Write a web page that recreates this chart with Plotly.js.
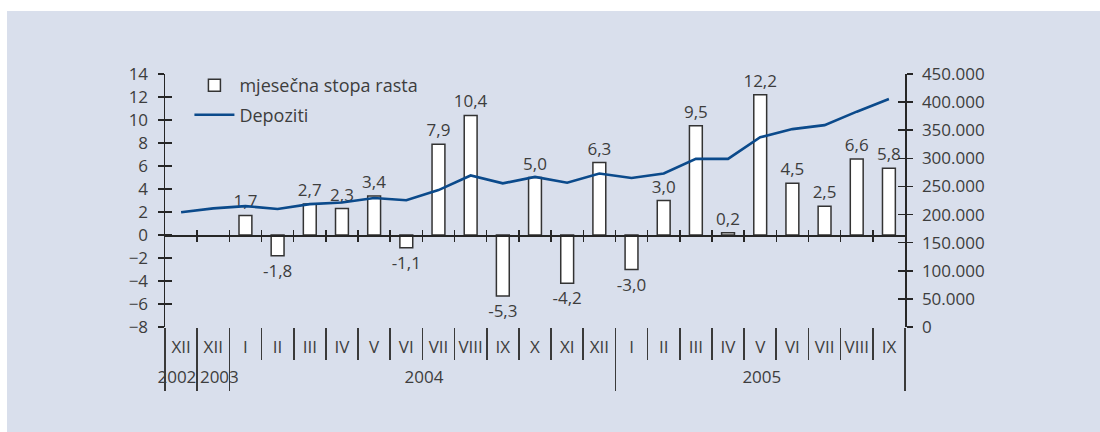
<!DOCTYPE html>
<html>
<head>
<meta charset="utf-8">
<script src="https://cdn.plot.ly/plotly-3.0.1.min.js"></script>
<style>
html,body{margin:0;padding:0;background:#ffffff;}
#chart{position:absolute;left:7px;top:11px;width:1093px;height:421px;}
</style>
</head>
<body>
<div id="chart"></div>
<script>
// ---- data ----
const categories = ['XII','XII','I','II','III','IV','V','VI','VII','VIII','IX','X','XI','XII','I','II','III','IV','V','VI','VII','VIII','IX'];
const years = ['2002','2003','2004','2005'];
const yearCounts = [1,1,12,9];
const growth = [null,null,1.7,-1.8,2.7,2.3,3.4,-1.1,7.9,10.4,-5.3,5.0,-4.2,6.3,-3.0,3.0,9.5,0.2,12.2,4.5,2.5,6.6,5.8];
const deposits = [204000,211000,215000,210000,218500,221500,229500,225500,243500,269500,255500,267000,256500,273000,265000,273000,299000,299000,337500,352000,359000,383000,405500];
const leftTicks = [-8,-6,-4,-2,0,2,4,6,8,10,12,14];
const rightTicks = [0,50000,100000,150000,200000,250000,300000,350000,400000,450000];
const seriesNames = ['mjesečna stopa rasta','Depoziti'];

// ---- derived positions (from data) ----
const idx = categories.map((_, i) => i);
const boundaries = categories.slice(1).map((_, i) => i + 0.5);
const yearBounds = [-0.5];
const yearCenters = [];
let acc = -0.5;
yearCounts.forEach(c => { yearCenters.push(acc + c / 2); acc += c; yearBounds.push(acc); });
const yearLabelNudge = [-0.13, 0.19, 0.05, 0.05]; // small visual offsets of the year labels
const yearLabelPos = yearCenters.map((v, i) => v + yearLabelNudge[i]);
const xr = [-0.5, categories.length - 0.5];
const leftRange = [leftTicks[0], leftTicks[leftTicks.length - 1]];
const rightRange = [rightTicks[0], rightTicks[rightTicks.length - 1]];
const zeroPos = (0 - leftRange[0]) / (leftRange[1] - leftRange[0]);

const txt = '#3d3d3d';
const axc = '#262626';
const fam = 'Open Sans, Noto Sans, sans-serif';

const traces = [
  {
    type: 'bar', name: seriesNames[0], x: idx, y: growth, xaxis: 'x', yaxis: 'y',
    width: 0.4, legendgroup: 'a',
    marker: {color: '#ffffff', line: {color: '#333333', width: 1.5}},
    texttemplate: '%{y:.1f}', textposition: 'outside', cliponaxis: false, constraintext: 'none',
    textfont: {family: fam, size: 17, color: txt},
    hoverinfo: 'skip'
  },
  {
    type: 'scatter', mode: 'lines', name: seriesNames[1], x: idx, y: deposits, xaxis: 'x', yaxis: 'y2',
    legendgroup: 'b',
    line: {color: '#0b4a8b', width: 2.6},
    hoverinfo: 'skip'
  }
];
// empty helper traces so the decorative helper axes get drawn
[['x2','y'],['x3','y'],['x4','y'],['x5','y'],['x6','y'],['x','y3'],['x','y4']].forEach(([xa, ya]) => {
  traces.push({type: 'scatter', mode: 'lines', x: xr, y: [null, null], xaxis: xa, yaxis: ya,
               showlegend: false, hoverinfo: 'skip', line: {width: 0}});
});

const base = {range: xr, showgrid: false, zeroline: false, fixedrange: true, tickangle: 0};
const layout = {
  width: 1093, height: 421,
  margin: {l: 158, r: 195, t: 63, b: 105, pad: 0},
  paper_bgcolor: '#d9dfec', plot_bgcolor: 'rgba(0,0,0,0)',
  separators: ',.',
  font: {family: fam, size: 17, color: txt},
  showlegend: true,
  legend: {x: 0.033, xanchor: 'left', y: 1.027, yanchor: 'top', bgcolor: 'rgba(0,0,0,0)',
           itemwidth: 40,
           font: {family: fam, size: 18, color: txt}, tracegroupgap: 3},
  xaxis: Object.assign({}, base, {
    type: 'linear', tickmode: 'array', tickvals: idx, ticktext: categories,
    ticks: '', showline: false, ticklabelstandoff: 8,
    tickfont: {family: fam, size: 17, color: txt}
  }),
  xaxis2: Object.assign({}, base, {
    overlaying: 'x', anchor: 'free', position: zeroPos, side: 'bottom',
    tickmode: 'array', tickvals: boundaries, ticks: 'outside', ticklen: 5, tickwidth: 1.5, tickcolor: axc,
    showline: true, linecolor: axc, linewidth: 1.5, showticklabels: false
  }),
  xaxis3: Object.assign({}, base, {
    overlaying: 'x', anchor: 'free', position: zeroPos, side: 'bottom',
    tickmode: 'array', tickvals: boundaries, ticks: 'inside', ticklen: 5, tickwidth: 1.5, tickcolor: axc,
    showline: false, showticklabels: false
  }),
  xaxis4: Object.assign({}, base, {
    overlaying: 'x', anchor: 'y', side: 'bottom',
    tickmode: 'array', tickvals: boundaries, ticks: 'outside', ticklen: 32, tickwidth: 1.6, tickcolor: '#3a3a3a',
    showline: false, showticklabels: false
  }),
  xaxis5: Object.assign({}, base, {
    overlaying: 'x', anchor: 'y', side: 'bottom',
    tickmode: 'array', tickvals: yearBounds, ticks: 'outside', ticklen: 63, tickwidth: 1.6, tickcolor: '#3a3a3a',
    showline: false, showticklabels: false
  }),
  xaxis6: Object.assign({}, base, {
    overlaying: 'x', anchor: 'y', side: 'bottom',
    tickmode: 'array', tickvals: yearLabelPos, ticktext: years, ticks: '',
    showline: false, ticklabelstandoff: 38, tickfont: {family: fam, size: 17, color: txt}
  }),
  yaxis: {
    range: leftRange, tickmode: 'array', tickvals: leftTicks, ticks: 'outside', ticklen: 6, tickwidth: 1.5, tickcolor: axc,
    showline: true, linecolor: axc, linewidth: 1.5, showgrid: false, zeroline: false, fixedrange: true,
    tickfont: {family: fam, size: 17, color: txt}, ticklabelstandoff: 6
  },
  yaxis2: {
    overlaying: 'y', side: 'right', anchor: 'x',
    range: rightRange, tickmode: 'array', tickvals: rightTicks, tickformat: ',d',
    ticks: 'outside', ticklen: 6, tickwidth: 1.5, tickcolor: axc,
    showline: true, linecolor: axc, linewidth: 1.5, showgrid: false, zeroline: false, fixedrange: true,
    tickfont: {family: fam, size: 17, color: txt}, ticklabelstandoff: 6
  },
  yaxis3: {
    overlaying: 'y', side: 'left', anchor: 'x',
    range: leftRange, tickmode: 'array', tickvals: leftTicks, ticks: 'inside', ticklen: 7, tickwidth: 1.5, tickcolor: axc,
    showline: false, showgrid: false, zeroline: false, showticklabels: false, fixedrange: true
  },
  yaxis4: {
    overlaying: 'y', side: 'right', anchor: 'x',
    range: rightRange, tickmode: 'array', tickvals: rightTicks, ticks: 'inside', ticklen: 7, tickwidth: 1.5, tickcolor: axc,
    showline: false, showgrid: false, zeroline: false, showticklabels: false, fixedrange: true
  }
};

Plotly.newPlot('chart', traces, layout, {displayModeBar: false, staticPlot: true});
</script>
</body>
</html>
